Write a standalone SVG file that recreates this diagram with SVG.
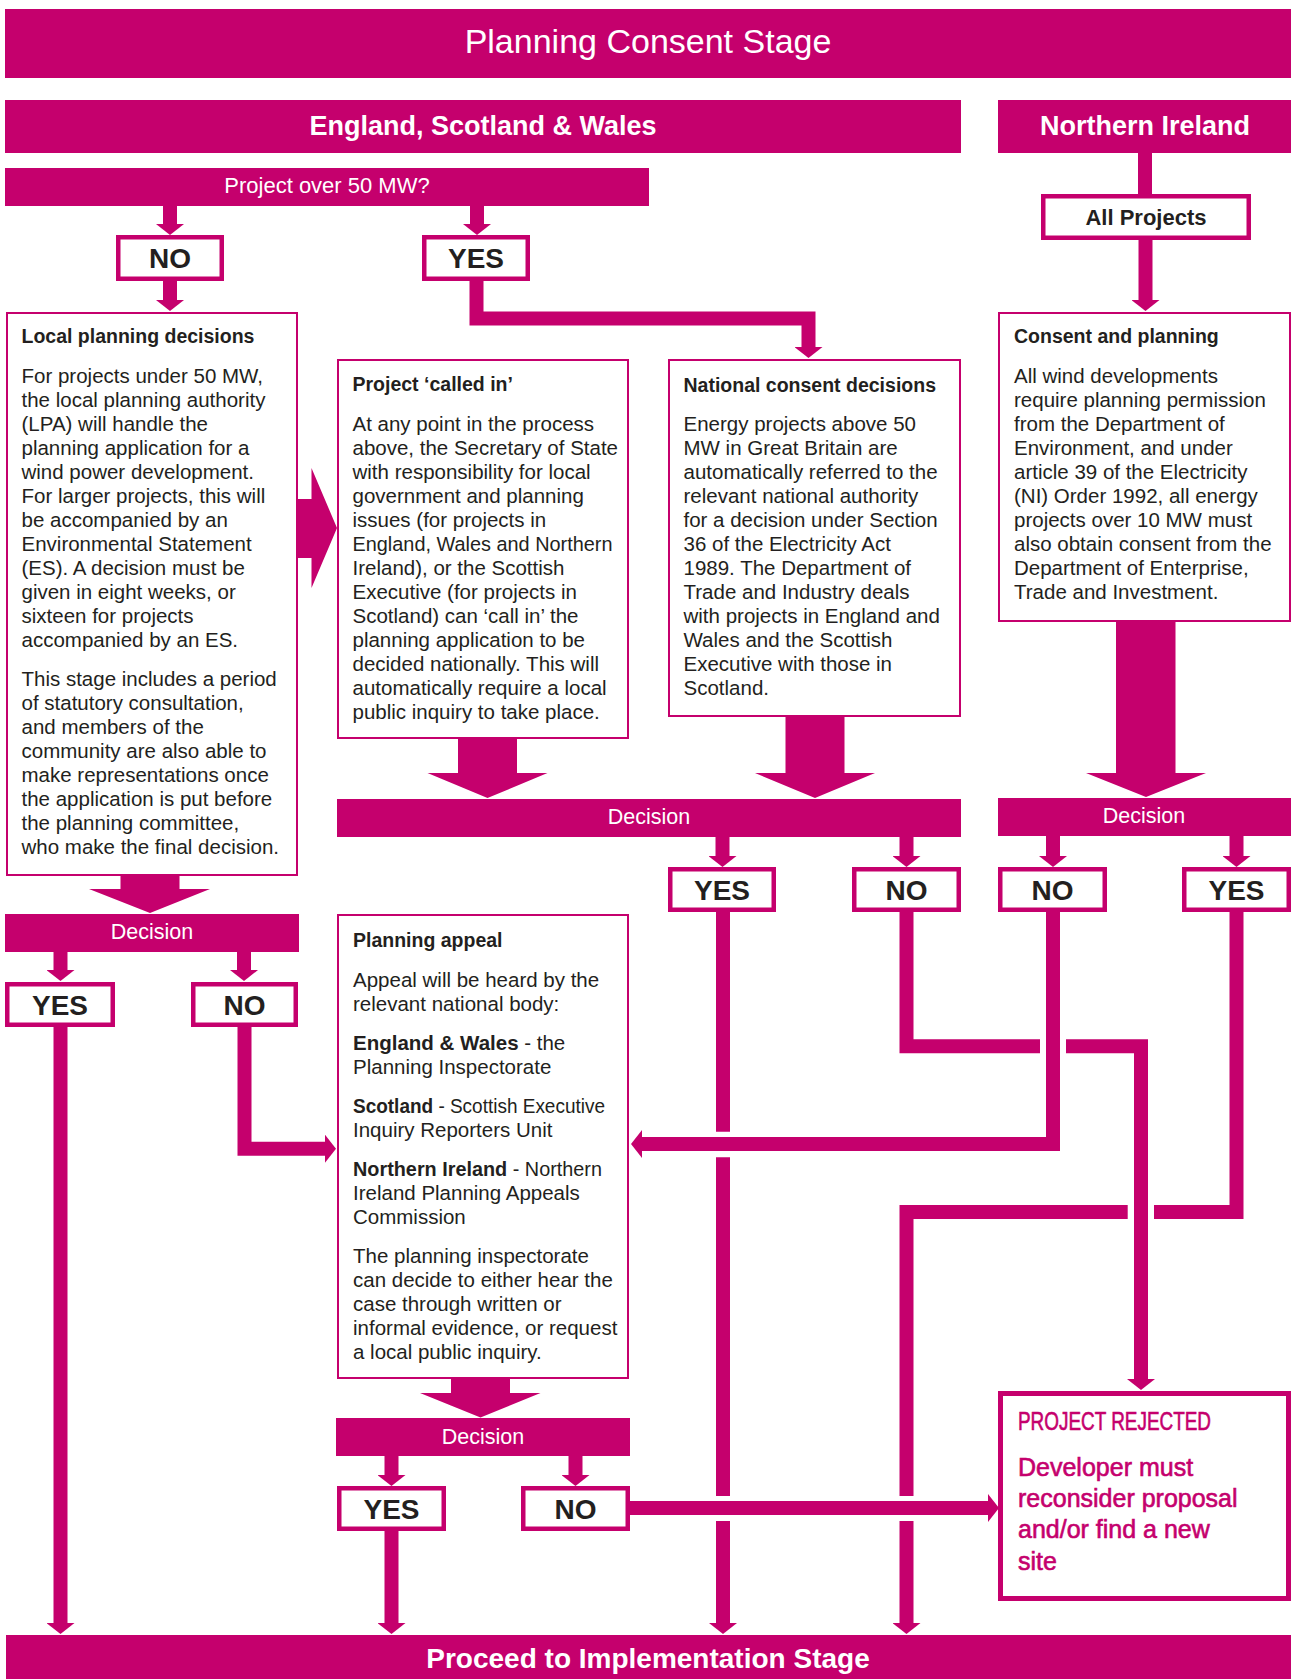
<svg xmlns="http://www.w3.org/2000/svg" width="1292" height="1679" viewBox="0 0 1292 1679">
<style>
.bar{fill:#C5006D}
.box{fill:#fff;stroke:#C5006D;stroke-width:2}
.lbl{fill:#fff;stroke:#C5006D;stroke-width:4.5}
.rej{fill:#fff;stroke:#C5006D;stroke-width:5}
.conn{fill:none;stroke:#C5006D;stroke-width:14;stroke-linejoin:miter;stroke-linecap:butt}
.arr{fill:#C5006D}
text{font-family:"Liberation Sans",Arial,sans-serif}
.title{font-size:34px;fill:#fff;text-anchor:middle}
.region{font-size:27px;font-weight:bold;fill:#fff;text-anchor:middle}
.q{font-size:22px;fill:#fff;text-anchor:middle}
.dec{font-size:21.5px;fill:#fff;text-anchor:middle}
.yn{font-size:28px;font-weight:bold;fill:#231F20;text-anchor:middle}
.allp{font-size:22px;font-weight:bold;fill:#231F20;text-anchor:middle}
.head{font-size:19.5px;font-weight:bold;fill:#231F20}
.body{font-size:20.5px;fill:#231F20}
.b{font-weight:bold}
.rejt{font-size:25px;fill:#C5006D;stroke:#C5006D;stroke-width:0.6}
.impl{font-size:28px;font-weight:bold;fill:#fff;text-anchor:middle}
</style>
<defs>
<marker id="ah" viewBox="0 0 11 28" refX="0" refY="14" markerWidth="11" markerHeight="28" markerUnits="userSpaceOnUse" orient="auto">
<path d="M0,0 L11,14 L0,28 Z" fill="#C5006D"/>
</marker>
</defs>
<rect width="1292" height="1679" fill="#fff"/>

<g id="connectors">
<path class="conn" marker-end="url(#ah)" d="M170 206 V224"/>
<path class="conn" marker-end="url(#ah)" d="M477 206 V224"/>
<path class="conn" marker-end="url(#ah)" d="M170 281 V300"/>
<path class="conn" marker-end="url(#ah)" d="M476.5 281 V318.5 H808.5 V347"/>
<path class="conn" d="M1145 153 V196"/>
<path class="conn" marker-end="url(#ah)" d="M1145.5 240 V300"/>
<path class="conn" marker-end="url(#ah)" d="M60.5 952 V970"/>
<path class="conn" marker-end="url(#ah)" d="M244 952 V970"/>
<path class="conn" marker-end="url(#ah)" d="M722.5 837 V856"/>
<path class="conn" marker-end="url(#ah)" d="M906.5 837 V856"/>
<path class="conn" marker-end="url(#ah)" d="M1053 836 V856"/>
<path class="conn" marker-end="url(#ah)" d="M1236.5 836 V856"/>
<path class="conn" marker-end="url(#ah)" d="M391.5 1456 V1475"/>
<path class="conn" marker-end="url(#ah)" d="M575.5 1456 V1475"/>
<path class="conn" marker-end="url(#ah)" d="M60.5 1027 V1623"/>
<path class="conn" marker-end="url(#ah)" d="M244.5 1027 V1148.7 H325"/>
<path class="conn" d="M723 912 V1131.7"/>
<path class="conn" d="M723 1157.3 V1496"/>
<path class="conn" marker-end="url(#ah)" d="M723 1521 V1623"/>
<path class="conn" d="M906.5 912 V1046.3 H1040"/>
<path class="conn" marker-end="url(#ah)" d="M1066 1046.3 H1141 V1379"/>
<path class="conn" marker-end="url(#ah)" d="M1053 912 V1144 H642"/>
<path class="conn" d="M1236.5 912 V1212 H1154"/>
<path class="conn" d="M1127.7 1212 H906.5 V1496"/>
<path class="conn" marker-end="url(#ah)" d="M906.5 1521 V1623"/>
<path class="conn" marker-end="url(#ah)" d="M391.5 1531 V1623"/>
<path class="conn" marker-end="url(#ah)" d="M630 1508 H988"/>
<polygon class="arr" points="120.5,875 179.5,875 179.5,889 210,889 150,913 89,889 120.5,889"/>
<polygon class="arr" points="458,738 517,738 517,773 547.5,773 487.5,798 427.5,773 458,773"/>
<polygon class="arr" points="785.5,716 844.5,716 844.5,773 875,773 815,798 755,773 785.5,773"/>
<polygon class="arr" points="1116,621 1175.5,621 1175.5,773 1206,773 1146,797 1086,773 1116,773"/>
<polygon class="arr" points="451,1378 510,1378 510,1393 540.5,1393 480.5,1417.5 420,1393 451,1393"/>
<polygon class="arr" points="297,499 311.5,499 311.5,468 337,528 311.5,588 311.5,558 297,558"/>
</g>

<g id="title">
<rect class="bar" x="5" y="9" width="1286" height="69"/>
<text class="title" x="648" y="53">Planning Consent Stage</text>
</g>
<g id="england-scotland-wales">
<rect class="bar" x="5" y="100" width="956" height="53"/>
<text class="region" x="483" y="135">England, Scotland &amp; Wales</text>
</g>
<g id="northern-ireland">
<rect class="bar" x="998" y="100" width="293" height="53"/>
<text class="region" x="1145" y="135">Northern Ireland</text>
</g>
<g id="project-over-50">
<rect class="bar" x="5" y="168" width="644" height="38"/>
<text class="q" x="327" y="193">Project over 50 MW?</text>
</g>
<g id="no-top">
<rect class="lbl" x="118.25" y="237.25" width="103.5" height="41.5"/>
<text class="yn" x="170" y="268">NO</text>
</g>
<g id="yes-top">
<rect class="lbl" x="424.25" y="237.25" width="103.5" height="41.5"/>
<text class="yn" x="476" y="268">YES</text>
</g>
<g id="all-projects">
<rect class="lbl" x="1043.25" y="196.25" width="205.5" height="41.5"/>
<text class="allp" x="1146" y="224.5">All Projects</text>
</g>

<g id="local-planning">
<rect class="box" x="7" y="313" width="290" height="562"/>
<text class="head" x="21.5" y="343">Local planning decisions</text>
<text class="body">
<tspan x="21.5" y="383">For projects under 50 MW,</tspan>
<tspan x="21.5" y="407">the local planning authority</tspan>
<tspan x="21.5" y="431">(LPA) will handle the</tspan>
<tspan x="21.5" y="455">planning application for a</tspan>
<tspan x="21.5" y="479">wind power development.</tspan>
<tspan x="21.5" y="503">For larger projects, this will</tspan>
<tspan x="21.5" y="527">be accompanied by an</tspan>
<tspan x="21.5" y="551">Environmental Statement</tspan>
<tspan x="21.5" y="575">(ES). A decision must be</tspan>
<tspan x="21.5" y="599">given in eight weeks, or</tspan>
<tspan x="21.5" y="623">sixteen for projects</tspan>
<tspan x="21.5" y="647">accompanied by an ES.</tspan>
<tspan x="21.5" y="686">This stage includes a period</tspan>
<tspan x="21.5" y="710">of statutory consultation,</tspan>
<tspan x="21.5" y="734">and members of the</tspan>
<tspan x="21.5" y="758">community are also able to</tspan>
<tspan x="21.5" y="782">make representations once</tspan>
<tspan x="21.5" y="806">the application is put before</tspan>
<tspan x="21.5" y="830">the planning committee,</tspan>
<tspan x="21.5" y="854">who make the final decision.</tspan>
</text>
</g>

<g id="called-in">
<rect class="box" x="338" y="360" width="290" height="378"/>
<text class="head" x="352.5" y="391">Project ‘called in’</text>
<text class="body">
<tspan x="352.5" y="431">At any point in the process</tspan>
<tspan x="352.5" y="455">above, the Secretary of State</tspan>
<tspan x="352.5" y="479">with responsibility for local</tspan>
<tspan x="352.5" y="503">government and planning</tspan>
<tspan x="352.5" y="527">issues (for projects in</tspan>
<tspan x="352.5" y="551" textLength="260" lengthAdjust="spacingAndGlyphs">England, Wales and Northern</tspan>
<tspan x="352.5" y="575">Ireland), or the Scottish</tspan>
<tspan x="352.5" y="599">Executive (for projects in</tspan>
<tspan x="352.5" y="623">Scotland) can ‘call in’ the</tspan>
<tspan x="352.5" y="647">planning application to be</tspan>
<tspan x="352.5" y="671">decided nationally. This will</tspan>
<tspan x="352.5" y="695">automatically require a local</tspan>
<tspan x="352.5" y="719">public inquiry to take place.</tspan>
</text>
</g>

<g id="national-consent">
<rect class="box" x="669" y="360" width="291" height="356"/>
<text class="head" x="683.5" y="391.5">National consent decisions</text>
<text class="body">
<tspan x="683.5" y="431">Energy projects above 50</tspan>
<tspan x="683.5" y="455">MW in Great Britain are</tspan>
<tspan x="683.5" y="479">automatically referred to the</tspan>
<tspan x="683.5" y="503">relevant national authority</tspan>
<tspan x="683.5" y="527">for a decision under Section</tspan>
<tspan x="683.5" y="551">36 of the Electricity Act</tspan>
<tspan x="683.5" y="575">1989. The Department of</tspan>
<tspan x="683.5" y="599">Trade and Industry deals</tspan>
<tspan x="683.5" y="623">with projects in England and</tspan>
<tspan x="683.5" y="647">Wales and the Scottish</tspan>
<tspan x="683.5" y="671">Executive with those in</tspan>
<tspan x="683.5" y="695">Scotland.</tspan>
</text>
</g>

<g id="consent-planning">
<rect class="box" x="999" y="313" width="291" height="308"/>
<text class="head" x="1014" y="343">Consent and planning</text>
<text class="body">
<tspan x="1014" y="383">All wind developments</tspan>
<tspan x="1014" y="407">require planning permission</tspan>
<tspan x="1014" y="431">from the Department of</tspan>
<tspan x="1014" y="455">Environment, and under</tspan>
<tspan x="1014" y="479">article 39 of the Electricity</tspan>
<tspan x="1014" y="503">(NI) Order 1992, all energy</tspan>
<tspan x="1014" y="527">projects over 10 MW must</tspan>
<tspan x="1014" y="551">also obtain consent from the</tspan>
<tspan x="1014" y="575">Department of Enterprise,</tspan>
<tspan x="1014" y="599">Trade and Investment.</tspan>
</text>
</g>

<g id="decision-local">
<rect class="bar" x="5" y="914" width="294" height="38"/>
<text class="dec" x="152" y="939">Decision</text>
</g>
<g id="decision-national">
<rect class="bar" x="337" y="799" width="624" height="38"/>
<text class="dec" x="649" y="824">Decision</text>
</g>
<g id="decision-ni">
<rect class="bar" x="998" y="798" width="293" height="38"/>
<text class="dec" x="1144" y="823">Decision</text>
</g>

<g id="yes-local">
<rect class="lbl" x="7.25" y="984.25" width="105.5" height="40.5"/>
<text class="yn" x="60" y="1014.5">YES</text>
</g>
<g id="no-local">
<rect class="lbl" x="193.25" y="984.25" width="102.5" height="40.5"/>
<text class="yn" x="244.5" y="1014.5">NO</text>
</g>
<g id="yes-national">
<rect class="lbl" x="670.25" y="869.25" width="103.5" height="40.5"/>
<text class="yn" x="722" y="899.5">YES</text>
</g>
<g id="no-national">
<rect class="lbl" x="854.25" y="869.25" width="104.5" height="40.5"/>
<text class="yn" x="906.5" y="899.5">NO</text>
</g>
<g id="no-ni">
<rect class="lbl" x="1000.25" y="869.25" width="104.5" height="40.5"/>
<text class="yn" x="1052.5" y="899.5">NO</text>
</g>
<g id="yes-ni">
<rect class="lbl" x="1184.25" y="869.25" width="104.5" height="40.5"/>
<text class="yn" x="1236.5" y="899.5">YES</text>
</g>

<g id="planning-appeal">
<rect class="box" x="338" y="915" width="290" height="463"/>
<text class="head" x="353" y="947">Planning appeal</text>
<text class="body">
<tspan x="353" y="987">Appeal will be heard by the</tspan>
<tspan x="353" y="1011">relevant national body:</tspan>
<tspan x="353" y="1050"><tspan class="b">England &amp; Wales</tspan> - the</tspan>
<tspan x="353" y="1074">Planning Inspectorate</tspan>
<tspan x="353" y="1113" textLength="252" lengthAdjust="spacingAndGlyphs"><tspan class="b">Scotland</tspan> - Scottish Executive</tspan>
<tspan x="353" y="1137">Inquiry Reporters Unit</tspan>
<tspan x="353" y="1176" textLength="249" lengthAdjust="spacingAndGlyphs"><tspan class="b">Northern Ireland</tspan> - Northern</tspan>
<tspan x="353" y="1200">Ireland Planning Appeals</tspan>
<tspan x="353" y="1224">Commission</tspan>
<tspan x="353" y="1263">The planning inspectorate</tspan>
<tspan x="353" y="1287">can decide to either hear the</tspan>
<tspan x="353" y="1311">case through written or</tspan>
<tspan x="353" y="1335">informal evidence, or request</tspan>
<tspan x="353" y="1359">a local public inquiry.</tspan>
</text>
</g>

<g id="decision-appeal">
<rect class="bar" x="336" y="1418" width="294" height="38"/>
<text class="dec" x="483" y="1444">Decision</text>
</g>
<g id="yes-appeal">
<rect class="lbl" x="339.25" y="1488.25" width="104.5" height="40.5"/>
<text class="yn" x="391.5" y="1518.5">YES</text>
</g>
<g id="no-appeal">
<rect class="lbl" x="523.25" y="1488.25" width="104.5" height="40.5"/>
<text class="yn" x="575.5" y="1518.5">NO</text>
</g>

<g id="project-rejected">
<rect class="rej" x="1000.5" y="1393.5" width="288" height="205"/>
<text class="rejt" x="1018" y="1430" textLength="193" lengthAdjust="spacingAndGlyphs">PROJECT REJECTED</text>
<text class="rejt">
<tspan x="1018" y="1476">Developer must</tspan>
<tspan x="1018" y="1507">reconsider proposal</tspan>
<tspan x="1018" y="1538">and/or find a new</tspan>
<tspan x="1018" y="1570">site</tspan>
</text>
</g>

<g id="implementation">
<rect class="bar" x="6" y="1635" width="1285" height="44"/>
<text class="impl" x="648" y="1668">Proceed to Implementation Stage</text>
</g>
</svg>
